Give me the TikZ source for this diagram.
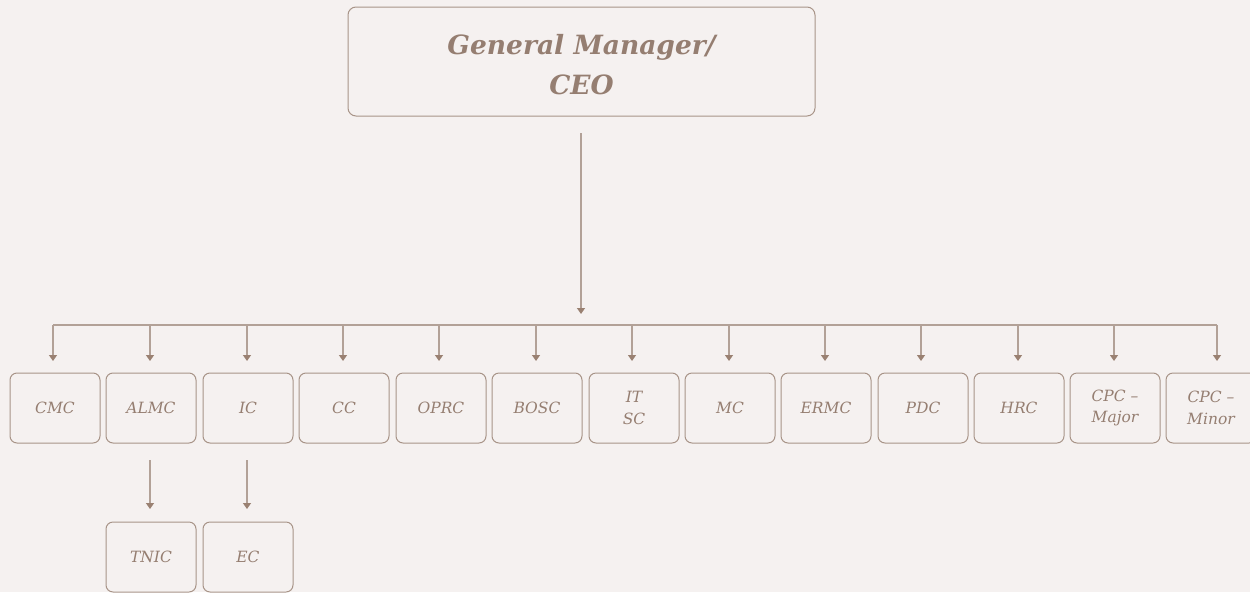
\documentclass[tikz,border=0pt]{standalone}
\usepackage{fontspec}
\setmainfont{DejaVu Serif}
\usetikzlibrary{arrows.meta}
\definecolor{paper}{HTML}{F5F1F0}
\definecolor{edge}{HTML}{A89488}
\definecolor{wire}{HTML}{B2A197}
\definecolor{tip}{HTML}{9A8172}
\definecolor{ink}{HTML}{957E71}
\tikzset{
  unitbox/.style={draw=edge, line width=1pt, rounded corners=7pt, minimum width=90pt,
    minimum height=70pt, inner sep=0pt, text=ink, align=center,
    font=\fontsize{15.5}{21.5}\selectfont\itshape},
  headbox/.style={draw=edge, line width=1pt, rounded corners=8pt, minimum width=467pt,
    minimum height=109pt, inner sep=0pt, text=ink, align=center},
  headtext/.style={text=ink, align=center, inner sep=0pt,
    font=\fontsize{26.5}{40}\selectfont\bfseries\itshape},
  wirearrow/.style={draw=wire, line width=1.3pt, -{Triangle[width=8pt,length=6pt,color=tip]}},
  wireline/.style={draw=wire, line width=1.3pt},
}
\begin{document}
\begin{tikzpicture}[x=1pt,y=-1pt]
  \useasboundingbox[fill=paper] (0,0) rectangle (1250,592);
  % head of the organisation
  \node[headbox] (gm) at (581.5,61.5) {};
  \node[headtext] (gmtext) at (581.5,64.5) {General Manager/\\CEO};
  \coordinate (trunkTop) at (581,133);
  \coordinate (trunkEnd) at (581,314);
  \draw[wirearrow] (trunkTop) -- (trunkEnd);
  % committees
  \foreach \name/\txt/\cx/\ax [count=\i] in {
      cmc/CMC/55/53, almc/ALMC/151/150, ic/IC/248/247, cc/CC/344/343,
      oprc/OPRC/441/439, bosc/BOSC/537/536, itsc/{IT\\SC}/634/632, mc/MC/730/729,
      ermc/ERMC/826/825, pdc/PDC/923/921, hrc/HRC/1019/1018,
      cpcmaj/{CPC –\\Major}/1115/1114, cpcmin/{CPC –\\Minor}/1211/1217} {
    \node[unitbox] (\name) at (\cx,408) {\txt};
    \coordinate (\name-in) at (\ax,325);
    \coordinate (\name-tip) at (\ax,361);
    \draw[wirearrow] (\name-in) -- (\name-tip);
  }
  % distribution bus
  \draw[wireline] (cmc-in) -- (cpcmin-in);
  % second level
  \node[unitbox] (tnic) at (151,557) {TNIC};
  \node[unitbox] (ec) at (248,557) {EC};
  \coordinate (almc-out) at (150,460);
  \coordinate (ic-out) at (247,460);
  \coordinate (tnic-tip) at (150,509);
  \coordinate (ec-tip) at (247,509);
  \draw[wirearrow] (almc-out) -- (tnic-tip);
  \draw[wirearrow] (ic-out) -- (ec-tip);
\end{tikzpicture}
\end{document}
